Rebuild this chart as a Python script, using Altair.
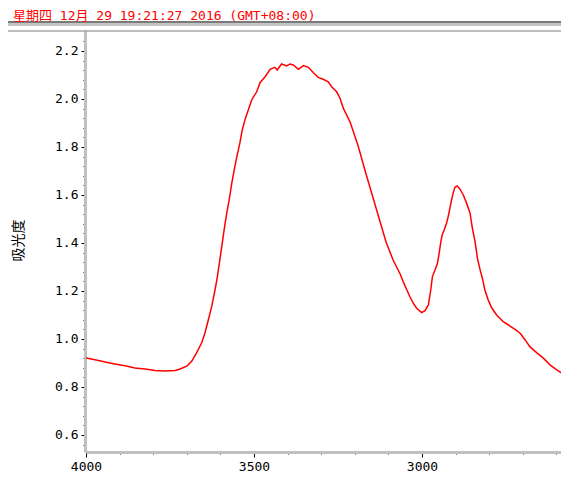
import altair as alt
import pandas as pd

# ---- data ----
wavenumber = [4000, 3973, 3943, 3914, 3884, 3854, 3824, 3795, 3765, 3735,
              3720, 3699, 3685, 3671, 3656, 3646, 3636, 3626, 3616, 3609,
              3603, 3596, 3589, 3581, 3574, 3566, 3559, 3551, 3542, 3535,
              3527, 3517, 3507, 3492, 3482, 3467, 3452, 3438, 3431, 3418,
              3403, 3393, 3383, 3368, 3353, 3338, 3324, 3309, 3294, 3279,
              3269, 3254, 3244, 3234, 3214, 3190, 3170, 3149, 3128, 3107,
              3086, 3065, 3056, 3045, 3036, 3026, 3016, 3001, 2991, 2981,
              2974, 2969, 2961, 2954, 2949, 2944, 2940, 2934, 2927, 2922,
              2917, 2912, 2907, 2902, 2895, 2887, 2877, 2867, 2857, 2850,
              2842, 2835, 2827, 2819, 2813, 2803, 2793, 2778, 2758, 2738,
              2723, 2708, 2693, 2679, 2659, 2639, 2619, 2599, 2579, 2565]
absorbance = [0.921, 0.913, 0.904, 0.896, 0.888, 0.879, 0.875, 0.869, 0.867, 0.869,
              0.875, 0.888, 0.908, 0.942, 0.983, 1.025, 1.079, 1.135, 1.204, 1.260,
              1.317, 1.385, 1.454, 1.525, 1.579, 1.650, 1.704, 1.760, 1.817, 1.871,
              1.913, 1.954, 1.996, 2.030, 2.068, 2.093, 2.124, 2.132, 2.121, 2.146,
              2.138, 2.146, 2.142, 2.124, 2.139, 2.132, 2.110, 2.090, 2.082, 2.072,
              2.051, 2.030, 2.003, 1.961, 1.904, 1.804, 1.704, 1.604, 1.504, 1.404,
              1.329, 1.271, 1.239, 1.204, 1.176, 1.149, 1.128, 1.110, 1.118, 1.142,
              1.204, 1.260, 1.288, 1.315, 1.357, 1.405, 1.433, 1.454, 1.482, 1.510,
              1.545, 1.579, 1.610, 1.632, 1.638, 1.624, 1.600, 1.565, 1.524, 1.461,
              1.405, 1.336, 1.288, 1.246, 1.204, 1.163, 1.131, 1.100, 1.072, 1.054,
              1.040, 1.024, 0.996, 0.968, 0.943, 0.920, 0.892, 0.871, 0.853, 0.847]

header_text = ["星期四 12月 29 19:21:27 2016 (GMT+08:00)"]
y_title = "吸光度"
x_tick_values = [4000, 3900, 3800, 3700, 3600, 3500, 3400, 3300, 3200, 3100,
                 3000, 2900, 2800, 2700, 2600]
y_tick_values = [0.56, 0.60, 0.64, 0.68, 0.72, 0.76, 0.80, 0.84, 0.88, 0.92,
                 0.96, 1.00, 1.04, 1.08, 1.12, 1.16, 1.20, 1.24, 1.28, 1.32,
                 1.36, 1.40, 1.44, 1.48, 1.52, 1.56, 1.60, 1.64, 1.68, 1.72,
                 1.76, 1.80, 1.84, 1.88, 1.92, 1.96, 2.00, 2.04, 2.08, 2.12,
                 2.16, 2.20, 2.24]

df = pd.DataFrame({"wn": wavenumber, "A": absorbance})

X_MAJOR = "datum.value % 500 === 0"
Y_MAJOR = "abs(datum.value * 5 - round(datum.value * 5)) < 0.001"
MONO = "DejaVu Sans Mono"

x_axis = alt.Axis(
    values=x_tick_values, title=None, grid=False,
    domainColor="#c0c0c0", domainWidth=3, tickColor="black", tickWidth=1,
    tickSize={"condition": {"test": X_MAJOR, "value": 5}, "value": 2},
    labelExpr=f"{X_MAJOR} ? format(datum.value, 'd') : ''",
    labelFont=MONO, labelFontSize=13, labelColor="black", labelPadding=3,
    labelFlush=False, labelOverlap=False,
)
y_axis = alt.Axis(
    values=y_tick_values, title=y_title, grid=False, offset=1,
    domainColor="#c0c0c0", domainWidth=3, tickColor="black", tickWidth=1,
    tickSize={"condition": {"test": Y_MAJOR, "value": 4}, "value": 2},
    labelExpr=f"{Y_MAJOR} ? format(datum.value, '.1f') : ''",
    labelFont=MONO, labelFontSize=13, labelColor="black", labelPadding=3,
    labelFlush=False, labelOverlap=False,
    titleFont="Noto Sans CJK SC", titleFontSize=14, titleFontWeight="normal",
    titleColor="black", titleAngle=270, titleX=-74, titleY=210,
    titleAlign="center", titleBaseline="top",
)

line = alt.Chart(df).mark_line(color="#ff0000", strokeWidth=1.5, clip=True).encode(
    x=alt.X("wn:Q", scale=alt.Scale(domain=[4000, 2586.3], nice=False, zero=False), axis=x_axis),
    y=alt.Y("A:Q", scale=alt.Scale(domain=[0.529, 2.2875], nice=False, zero=False), axis=y_axis),
)

one = pd.DataFrame({"k": [0]})
frame_dark = alt.Chart(one).mark_rule(color="#7a7a7a", strokeWidth=2).encode(
    x=alt.value(-78), x2=alt.value(475), y=alt.value(-8))
frame_light = alt.Chart(one).mark_rule(color="#c4c4c4", strokeWidth=3).encode(
    x=alt.value(-78), x2=alt.value(475), y=alt.value(-5.5))
frame_top = alt.Chart(one).mark_rule(color="#a8a8a8", strokeWidth=1.5).encode(
    x=alt.value(-78), x2=alt.value(475), y=alt.value(1))

header = alt.Chart(pd.DataFrame({"t": header_text})).mark_text(
    align="left", baseline="top", color="#ff0000",
    font=f"{MONO}, Noto Sans CJK SC", fontSize=13,
).encode(x=alt.value(-73), y=alt.value(-20.5), text="t:N")

chart = alt.layer(frame_dark, frame_light, frame_top, header, line).properties(
    width=475, height=422,
    padding={"left": 78, "top": 22, "right": 0, "bottom": 25},
    autosize=alt.AutoSizeParams(type="none"),
    background="white",
).configure_view(stroke=None)

chart.save("out.html", embed_options={"renderer": "svg", "actions": False})
